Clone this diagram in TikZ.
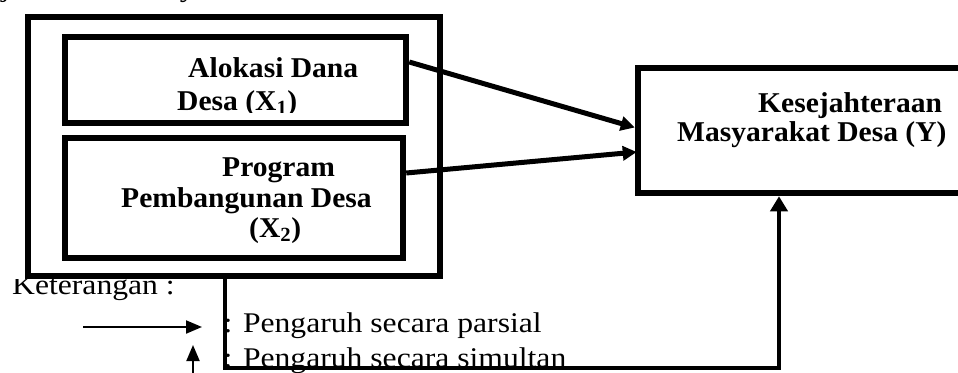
\documentclass[tikz,border=0pt]{standalone}
\usepackage{fontspec}
\setmainfont{Liberation Serif}
\usetikzlibrary{arrows.meta,calc}
\newcommand{\bstretch}[1]{\scalebox{1.03}[1]{#1}}
\newcommand{\lstretch}[1]{\scalebox{1.11}[1]{#1}}
\tikzset{
  frame/.style={draw=black, line width=6.5pt, inner sep=0pt, rectangle},
  boxtxt/.style={anchor=base west, inner sep=0pt, font=\fontsize{28.7}{30}\selectfont\bfseries},
  legtxt/.style={anchor=base west, inner sep=0pt, font=\fontsize{28.5}{32}\selectfont},
  partial/.style={line width=5pt, -{Triangle[length=14pt,width=14pt]}},
  simul/.style={line width=4.5pt, -{Triangle[length=15pt,width=17pt]}},
  legarrow/.style={line width=2pt, -{Triangle[length=16pt,width=13pt]}}
}
\begin{document}
\begin{tikzpicture}[x=1pt,y=-1pt]
\useasboundingbox (0,0) rectangle (958,372);
\clip (0,0) rectangle (958,372);
% clipped fragment of the preceding line
\node[legtxt] (top) at (-62,-4) {\lstretch{Kesejahteraan Masyarakat}};
% box texts
\node[boxtxt] (t1a) at (188,77) {\bstretch{Alokasi Dana}};
\begin{scope}
\clip (100,80) rectangle (400,112);
\node[boxtxt] (t1b) at (177,110) {\bstretch{Desa (X\textsubscript{1})}};
\end{scope}
\node[boxtxt] (t2a) at (222,176) {\bstretch{Program}};
\node[boxtxt] (t2b) at (121,207) {\bstretch{Pembangunan Desa}};
\node[boxtxt] (t2c) at (249,237) {\bstretch{(X\textsubscript{2})}};
\node[boxtxt] (ty1) at (758,112) {\bstretch{Kesejahteraan}};
\node[boxtxt] (ty2) at (677,141) {\bstretch{Masyarakat Desa (Y)}};
% legend
\begin{scope}
\clip (0,279) rectangle (220,320);
\node[legtxt] (ket) at (12,294) {\lstretch{Keterangan :}};
\end{scope}
\node[legtxt] (lp) at (223.5,332) {\lstretch{: Pengaruh secara parsial}};
\node[legtxt] (ls) at (223.5,367) {\lstretch{: Pengaruh secara simultan}};
% boxes
\node[frame, minimum width=412pt, minimum height=259pt] (outer) at (234,146.5) {};
\node[frame, minimum width=341pt, minimum height=86pt] (b1) at (235.5,80) {};
\node[frame, minimum width=338pt, minimum height=120pt] (b2) at (234,198) {};
\node[frame, minimum width=420pt, minimum height=125pt] (y) at (848,130.5) {};
% partial arrows
\draw[partial] ([yshift=18pt]b1.east) -- ([yshift=3pt]y.west);
\draw[partial] ([yshift=25pt]b2.east) -- ([yshift=-21.5pt,xshift=2pt]y.west);
% simultaneous connector
\coordinate (c) at (779,368);
\draw[simul] ([xshift=-9pt]outer.south) |- (c) -- (c |- y.south);
% legend arrows
\coordinate (la1) at (83,327);
\coordinate (la2) at (202,327);
\draw[legarrow] (la1) -- (la2);
\coordinate (lu1) at (193,375);
\coordinate (lu2) at (193,345);
\draw[legarrow] (lu1) -- (lu2);
\end{tikzpicture}
\end{document}
